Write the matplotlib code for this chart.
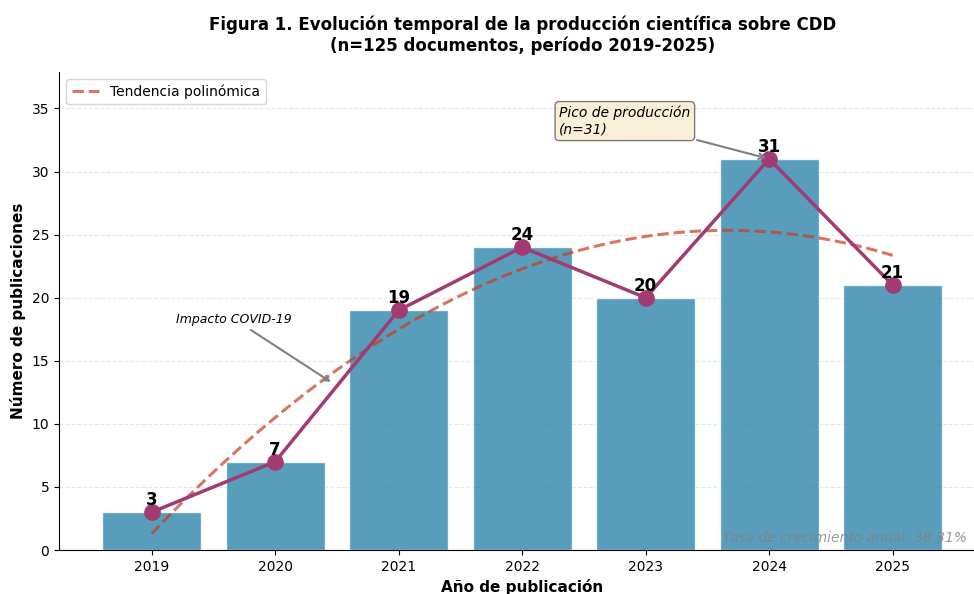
import matplotlib
matplotlib.use("Agg")
import matplotlib.pyplot as plt
import numpy as np

# datos
anios = [2019, 2020, 2021, 2022, 2023, 2024, 2025]
publicaciones = [3, 7, 19, 24, 20, 31, 21]
tasa_crecimiento = "38.31%"

fig = plt.figure(figsize=(9.74, 5.94), dpi=100)
ax = fig.add_axes([0.0606, 0.074, 0.951, 0.805])

x = np.arange(len(anios))
y = np.array(publicaciones)

ax.bar(x, y, width=0.8, color='#2E86AB', alpha=0.8, edgecolor='white', linewidth=1)
ax.plot(x, y, color='#A23B72', linewidth=2.5, marker='o', markersize=11, zorder=3)

# tendencia polinomica (grado 2)
coef = np.polyfit(x, y, 2)
xs = np.linspace(x[0], x[-1], 100)
ax.plot(xs, np.polyval(coef, xs), '--', color='#C73E1D', alpha=0.7, linewidth=2.2,
        label='Tendencia polinómica')

for xi, yi in zip(x, y):
    ax.text(xi, yi + 0.25, str(yi), ha='center', va='bottom', fontsize=12,
            fontweight='bold', zorder=4)

# anotaciones
imax = int(np.argmax(y))
ax.annotate(f'Pico de producción\n(n={y[imax]})', xy=(imax, y[imax]),
            xytext=(imax - 1.7, 34), ha='left', va='center', fontsize=10, style='italic',
            bbox=dict(boxstyle='round,pad=0.3', facecolor='wheat', alpha=0.5, edgecolor='black'),
            arrowprops=dict(arrowstyle='->', color='gray', lw=1.5))
ax.annotate('Impacto COVID-19', xy=(1.47, 13.2), xytext=(0.2, 18.3),
            ha='left', va='center', fontsize=9, style='italic',
            arrowprops=dict(arrowstyle='->', color='gray', lw=1.5))

ax.text(0.98, 0.01, f'Tasa de crecimiento anual: {tasa_crecimiento}', transform=ax.transAxes,
        ha='right', va='bottom', fontsize=10, style='italic', color='gray', alpha=0.8)

ax.set_xticks(x)
ax.set_xticklabels([str(a) for a in anios])
ax.set_xlim(-0.75, 6.75)
ax.set_ylim(0, 37.9)
ax.set_xlabel('Año de publicación', fontsize=11, fontweight='bold')
ax.set_ylabel('Número de publicaciones', fontsize=11, fontweight='bold')
ax.set_title('Figura 1. Evolución temporal de la producción científica sobre CDD\n'
             '(n=125 documentos, período 2019-2025)', fontsize=12, fontweight='bold', pad=15)
ax.grid(axis='y', linestyle='--', alpha=0.3)
ax.set_axisbelow(True)
ax.spines['top'].set_visible(False)
ax.spines['right'].set_visible(False)
ax.legend(loc='upper left', fontsize=10)

fig.savefig('out.png', dpi=100)
